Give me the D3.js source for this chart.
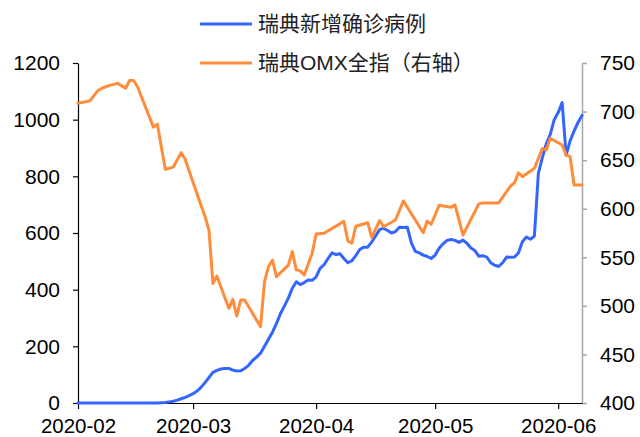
<!DOCTYPE html>
<html><head><meta charset="utf-8">
<script src="https://cdn.jsdelivr.net/npm/d3@7"></script>
<style>
body{margin:0;background:#fff}
svg{display:block}
text{font-family:"Liberation Sans","Noto Sans CJK SC",Arial,sans-serif}
</style>
</head><body>
<svg id="c" width="640" height="437"></svg>
<script>
// ---- data ----
const seriesNames = ["瑞典新增确诊病例", "瑞典OMX全指（右轴）"];
const caseStart = "2020-02-01";
const caseValues = [
  0,0,0,0,0,0,0,0,0,0,0,0,0,0,0,0,0,0,0,0,0,
  1,2,4,6,10,15,20,26,33,42,
  55,72,90,108,115,120,122,122,116,113,
  114,122,133,150,162,176,200,225,250,280,
  315,342,370,405,428,418,425,434,433,445,
  475,488,510,530,524,527,510,495,502,520,
  542,550,550,568,590,612,617,609,600,605,
  620,619,620,565,535,530,522,517,510,522,
  546,562,574,577,574,567,575,564,547,538,
  518,520,515,495,486,482,495,515,514,515,
  530,570,586,578,589,810,865,915,948,1000,
  1025,1060,875,925,960,990,1015
];
const omxDates = [
  "2020-02-01","2020-02-04","2020-02-06","2020-02-07","2020-02-09","2020-02-11","2020-02-13","2020-02-14","2020-02-15","2020-02-16",
  "2020-02-20","2020-02-21","2020-02-23","2020-02-25","2020-02-27","2020-02-28","2020-03-01","2020-03-04","2020-03-05","2020-03-06",
  "2020-03-07","2020-03-10","2020-03-11","2020-03-12","2020-03-13","2020-03-14","2020-03-18","2020-03-19","2020-03-20","2020-03-21",
  "2020-03-22","2020-03-25","2020-03-26","2020-03-27","2020-03-28","2020-03-29","2020-03-31","2020-04-01","2020-04-03","2020-04-08",
  "2020-04-09","2020-04-10","2020-04-11","2020-04-14","2020-04-15","2020-04-17","2020-04-18","2020-04-21","2020-04-23","2020-04-28",
  "2020-04-29","2020-04-30","2020-05-02","2020-05-05","2020-05-06","2020-05-08","2020-05-12","2020-05-13","2020-05-17","2020-05-20",
  "2020-05-21","2020-05-22","2020-05-23","2020-05-26","2020-05-28","2020-05-29","2020-05-30","2020-06-02","2020-06-03","2020-06-04",
  "2020-06-05","2020-06-07"
];
const omxValues = [
  708.5,711,721.5,724,727,729,724,732,732,725.6,
  684,687,640.5,643,657.7,651,627,592,578,523,
  530.7,497.5,506.7,489.6,506,506,478.5,525,540.3,547,
  530,542,555.8,537,536,531.8,554,574,574.7,587,
  566.8,564.4,582,585.6,570.6,587.7,581.5,588.4,608,575.3,
  587.3,584,603.5,601.5,604,573,605,606,606,623.4,
  626.7,637,633,641.6,662,660.5,672.5,665.6,655.3,653.5,
  624.4,624.4
];
const xDomain = ["2020-02-01", "2020-06-07"];
const xTickDates = ["2020-02-01","2020-03-01","2020-04-01","2020-05-01","2020-06-01"];
const leftTicks = [0,200,400,600,800,1000,1200];
const rightTicks = [400,450,500,550,600,650,700,750];
const colors = ["#3366FF", "#FF8C3A"];

// ---- chart ----
const parse = d3.timeParse("%Y-%m-%d");
const svg = d3.select("#c");
const L = 78, R = 582, T = 63, B = 403;
const numFont = '"Liberation Sans",Arial,sans-serif';

const x = d3.scaleTime().domain(xDomain.map(parse)).range([L, R]);
const yL = d3.scaleLinear().domain([0, 1200]).range([B, T]);
const yR = d3.scaleLinear().domain([400, 750]).range([B, T]);

const caseData = caseValues.map((v, i) => ({d: d3.timeDay.offset(parse(caseStart), i), v}));
const omxData = omxDates.map((s, i) => ({d: parse(s), v: omxValues[i]}));

// axes
const gL = svg.append("g").attr("transform", `translate(${L},0)`)
  .call(d3.axisLeft(yL).tickValues(leftTicks).tickFormat(d3.format("d"))
    .tickSize(5).tickPadding(13).tickSizeOuter(0));
gL.selectAll("path,line").attr("stroke", "#000").attr("stroke-width", 1.2);
gL.selectAll("text").attr("font-size", 21).attr("fill", "#000").style("font-family", numFont);

const gR = svg.append("g").attr("transform", `translate(${R},0)`)
  .call(d3.axisRight(yR).tickValues(rightTicks).tickFormat(d3.format("d"))
    .tickSize(5).tickPadding(13).tickSizeOuter(0));
gR.selectAll("path,line").attr("stroke", "#A6A6A6").attr("stroke-width", 1.5);
gR.selectAll("text").attr("font-size", 21).attr("fill", "#000").style("font-family", numFont);

const gX = svg.append("g").attr("transform", `translate(0,${B})`)
  .call(d3.axisBottom(x).tickValues(xTickDates.map(parse)).tickFormat(d3.timeFormat("%Y-%m"))
    .tickSize(6).tickPadding(9).tickSizeOuter(0));
gX.selectAll("path,line").attr("stroke", "#000").attr("stroke-width", 1.2);
gX.selectAll("text").attr("font-size", 20.5).attr("fill", "#000").style("font-family", numFont);

// lines
const lineL = d3.line().x(d => x(d.d)).y(d => yL(d.v));
const lineR = d3.line().x(d => x(d.d)).y(d => yR(d.v));
svg.append("path").datum(caseData).attr("d", lineL)
  .attr("fill", "none").attr("stroke", colors[0]).attr("stroke-width", 3)
  .attr("stroke-linejoin", "round").attr("stroke-linecap", "round");
svg.append("path").datum(omxData).attr("d", lineR)
  .attr("fill", "none").attr("stroke", colors[1]).attr("stroke-width", 3)
  .attr("stroke-linejoin", "round").attr("stroke-linecap", "round");

// legend
const legY = [24, 63];
seriesNames.forEach((name, i) => {
  const g = svg.append("g").attr("transform", `translate(200,${legY[i]})`);
  g.append("line").attr("x1", 0).attr("x2", 52).attr("y1", 0).attr("y2", 0)
    .attr("stroke", colors[i]).attr("stroke-width", 3);
  g.append("text").attr("x", 58).attr("y", 0).attr("dy", "0.35em")
    .attr("font-size", 21).attr("fill", "#222").text(name);
});
</script>
</body></html>
